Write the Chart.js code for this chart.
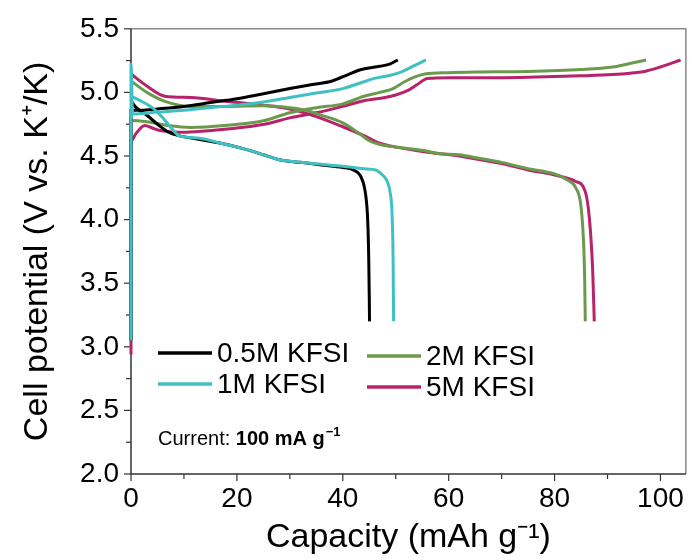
<!DOCTYPE html>
<html>
<head>
<meta charset="utf-8">
<script src="https://cdn.jsdelivr.net/npm/chart.js@4.4.1/dist/chart.umd.min.js"></script>
<style>
  html, body { margin: 0; padding: 0; background: #fff; }
  #wrap { width: 692px; height: 560px; }
</style>
</head>
<body>
<div id="wrap"><canvas id="chart" width="692" height="560"></canvas></div>
<script>
// ---- data (capacity in mAh/g, potential in V) ----
const seriesLabels = ['0.5M KFSI', '1M KFSI', '2M KFSI', '5M KFSI'];

const capBlackCh = [0, 0, 2, 5, 10, 15, 20, 25, 30, 34, 38, 41, 43.5, 47, 49, 50.4];
const vBlackCh   = [3.05, 4.86, 4.86, 4.87, 4.89, 4.92, 4.95, 4.99, 5.03, 5.06, 5.09, 5.14, 5.18, 5.205, 5.225, 5.255];
const capBlackDis = [0, 1, 3, 5, 7, 9, 13, 17, 21, 25, 28, 32, 36, 40, 42, 43.5, 44.3, 44.7, 44.9, 45, 45.05];
const vBlackDis   = [4.93, 4.88, 4.82, 4.75, 4.69, 4.66, 4.63, 4.6, 4.56, 4.51, 4.47, 4.45, 4.43, 4.41, 4.39, 4.33, 4.2, 4.0, 3.7, 3.4, 3.2];

const capCyanCh = [0, 0, 0.3, 5, 10, 15, 20, 25, 30, 35, 40, 43, 46, 49, 51, 53, 55.7];
const vCyanCh   = [3.05, 5.22, 4.83, 4.845, 4.86, 4.88, 4.9, 4.925, 4.96, 4.995, 5.03, 5.07, 5.11, 5.135, 5.16, 5.2, 5.255];
const capCyanDis = [0, 2, 4, 6, 8, 9, 13, 17, 21, 25, 28, 32, 36, 40, 44, 46.2, 47.5, 48.4, 49, 49.3, 49.5, 49.6];
const vCyanDis   = [4.97, 4.93, 4.88, 4.8, 4.7, 4.66, 4.64, 4.6, 4.56, 4.51, 4.47, 4.45, 4.435, 4.42, 4.4, 4.39, 4.35, 4.3, 4.2, 4.05, 3.7, 3.2];

const capGreenCh = [0, 0, 3, 7, 11.4, 17.7, 25, 30, 35, 40, 44, 47, 49.5, 51.5, 53.5, 55.5, 60, 65, 75, 85, 91, 94, 97.3];
const vGreenCh   = [3.05, 4.78, 4.77, 4.74, 4.725, 4.74, 4.777, 4.84, 4.88, 4.91, 4.97, 5.0, 5.03, 5.08, 5.12, 5.145, 5.155, 5.16, 5.165, 5.18, 5.2, 5.225, 5.255];
const capGreenDis = [0, 3, 6.4, 11.4, 18, 25, 30, 33, 36, 40, 43, 45, 47, 50, 55, 58, 62, 66, 70, 75, 80, 82.5, 84, 85, 85.5, 85.7, 85.8];
const vGreenDis   = [5.09, 5.0, 4.93, 4.89, 4.89, 4.895, 4.88, 4.86, 4.82, 4.76, 4.68, 4.62, 4.59, 4.57, 4.545, 4.52, 4.51, 4.48, 4.45, 4.4, 4.36, 4.31, 4.25, 4.1, 3.8, 3.5, 3.2];

const capPinkCh = [0, 0, 1, 2.6, 4, 5.5, 8.9, 12, 17.7, 25.2, 30, 35, 40, 44, 48, 50, 52.5, 54, 56, 60, 65, 75, 85, 91, 95, 97, 100, 103.8];
const vPinkCh   = [2.94, 4.62, 4.68, 4.74, 4.72, 4.7, 4.686, 4.69, 4.71, 4.75, 4.8, 4.84, 4.89, 4.935, 4.96, 4.98, 5.02, 5.06, 5.11, 5.115, 5.115, 5.12, 5.13, 5.14, 5.155, 5.165, 5.2, 5.255];
const capPinkDis = [0, 3, 6.4, 11.4, 17.7, 25, 30, 35, 40, 44, 47, 50, 56, 62, 66, 70, 75, 80, 84, 85.8, 86.6, 87.2, 87.5];
const vPinkDis   = [5.145, 5.05, 4.97, 4.96, 4.93, 4.9, 4.87, 4.81, 4.73, 4.66, 4.6, 4.57, 4.53, 4.5, 4.47, 4.44, 4.39, 4.35, 4.3, 4.22, 4.0, 3.6, 3.2];

const xTickValues = [0, 10, 20, 30, 40, 50, 60, 70, 80, 90, 100];
const yTickValues = [2.0, 2.25, 2.5, 2.75, 3.0, 3.25, 3.5, 3.75, 4.0, 4.25, 4.5, 4.75, 5.0, 5.25, 5.5];

const COLORS = {
  black: '#000000',
  cyan: '#3fc0c3',
  green: '#6b9a4d',
  pink: '#b8226b',
};
const FONT = "'Liberation Sans', Arial, sans-serif";

function zip(xs, ys) {
  return xs.map((x, i) => ({ x, y: ys[i] }));
}

function curve(xs, ys, color) {
  return {
    data: zip(xs, ys),
    borderColor: color,
    borderWidth: 3,
    pointRadius: 0,
    cubicInterpolationMode: 'monotone',
    fill: false,
    clip: false,
  };
}

// first dataset is drawn on top
const datasets = [
  curve(capCyanCh, vCyanCh, COLORS.cyan),
  curve(capCyanDis, vCyanDis, COLORS.cyan),
  curve(capBlackCh, vBlackCh, COLORS.black),
  curve(capBlackDis, vBlackDis, COLORS.black),
  curve(capGreenDis, vGreenDis, COLORS.green),
  curve(capGreenCh, vGreenCh, COLORS.green),
  curve(capPinkCh, vPinkCh, COLORS.pink),
  curve(capPinkDis, vPinkDis, COLORS.pink),
];

const legendItems = [
  { label: seriesLabels[0], color: COLORS.black, x: 158, y: 353 },
  { label: seriesLabels[1], color: COLORS.cyan, x: 158, y: 384 },
  { label: seriesLabels[2], color: COLORS.green, x: 367, y: 356 },
  { label: seriesLabels[3], color: COLORS.pink, x: 367, y: 387 },
];

/* frame, tick marks, legend and note */
const decor = {
  id: 'decor',
  beforeDatasetsDraw(chart) {
    const { ctx, chartArea: a, scales } = chart;
    ctx.save();
    ctx.lineWidth = 1.5;
    ctx.strokeStyle = '#8a8a8a';
    ctx.beginPath();
    ctx.moveTo(a.left, a.top);
    ctx.lineTo(a.right, a.top);
    ctx.lineTo(a.right, a.bottom);
    ctx.stroke();
    ctx.strokeStyle = '#333';
    ctx.beginPath();
    ctx.moveTo(a.left, a.top);
    ctx.lineTo(a.left, a.bottom);
    ctx.lineTo(a.right, a.bottom);
    ctx.stroke();
    // ticks
    ctx.lineWidth = 1.2;
    for (const t of scales.x.ticks) {
      const px = scales.x.getPixelForValue(t.value);
      const len = t.value % 20 === 0 ? 7 : 5;
      ctx.beginPath();
      ctx.moveTo(px, a.bottom);
      ctx.lineTo(px, a.bottom + len);
      ctx.stroke();
    }
    for (const t of scales.y.ticks) {
      const py = scales.y.getPixelForValue(t.value);
      const len = Math.abs(t.value * 2 - Math.round(t.value * 2)) < 1e-6 ? 7 : 5;
      ctx.beginPath();
      ctx.moveTo(a.left, py);
      ctx.lineTo(a.left - len, py);
      ctx.stroke();
    }
    ctx.restore();
  },
  afterDraw(chart) {
    const { ctx } = chart;
    ctx.save();
    ctx.textBaseline = 'middle';
    ctx.font = `28px ${FONT}`;
    for (const item of legendItems) {
      ctx.strokeStyle = item.color;
      ctx.lineWidth = 3.5;
      ctx.beginPath();
      ctx.moveTo(item.x, item.y);
      ctx.lineTo(item.x + 54, item.y);
      ctx.stroke();
      ctx.fillStyle = '#000';
      ctx.fillText(item.label, item.x + 59, item.y + 1);
    }
    // current note
    let x = 158;
    const y = 438;
    ctx.textBaseline = 'alphabetic';
    ctx.font = `20px ${FONT}`;
    ctx.fillText('Current: ', x, y + 7);
    x += ctx.measureText('Current: ').width;
    ctx.font = `bold 20px ${FONT}`;
    ctx.fillText('100 mA g', x, y + 7);
    x += ctx.measureText('100 mA g').width;
    ctx.font = `bold 13px ${FONT}`;
    ctx.fillText('\u22121', x + 1, y - 2);
    ctx.restore();
  },
};

new Chart(document.getElementById('chart'), {
  type: 'line',
  data: { datasets },
  options: {
    responsive: false,
    animation: false,
    events: [],
    layout: { padding: { top: 24, right: 4, left: 0, bottom: 0 } },
    plugins: { legend: { display: false }, tooltip: { enabled: false } },
    scales: {
      x: {
        type: 'linear',
        min: 0,
        max: 104.8,
        afterBuildTicks: s => { s.ticks = xTickValues.map(v => ({ value: v })); },
        afterFit: s => { s.height = 86; },
        grid: { display: false, drawTicks: false },
        border: { display: false },
        ticks: {
          padding: 8,
          color: '#000',
          font: { family: FONT, size: 28 },
          maxRotation: 0,
          autoSkip: false,
          callback: v => (v % 20 === 0 ? String(v) : ''),
        },
        title: {
          display: true,
          text: 'Capacity (mAh g\u207B\u00B9)',
          color: '#000',
          font: { family: FONT, size: 34 },
          padding: { top: 0, bottom: 2 },
        },
      },
      y: {
        min: 2,
        max: 5.5,
        afterBuildTicks: s => { s.ticks = yTickValues.map(v => ({ value: v })); },
        afterFit: s => { s.width = 131; },
        grid: { display: false, drawTicks: false },
        border: { display: false },
        ticks: {
          padding: 12,
          color: '#000',
          font: { family: FONT, size: 28 },
          autoSkip: false,
          callback: v => (Math.abs(v * 2 - Math.round(v * 2)) < 1e-6 ? v.toFixed(1) : ''),
        },
        title: {
          display: true,
          text: 'Cell potential (V vs. K\u207A/K)',
          color: '#000',
          font: { family: FONT, size: 34 },
          padding: { top: 17, bottom: 0 },
        },
      },
    },
  },
  plugins: [decor],
});
</script>
</body>
</html>
